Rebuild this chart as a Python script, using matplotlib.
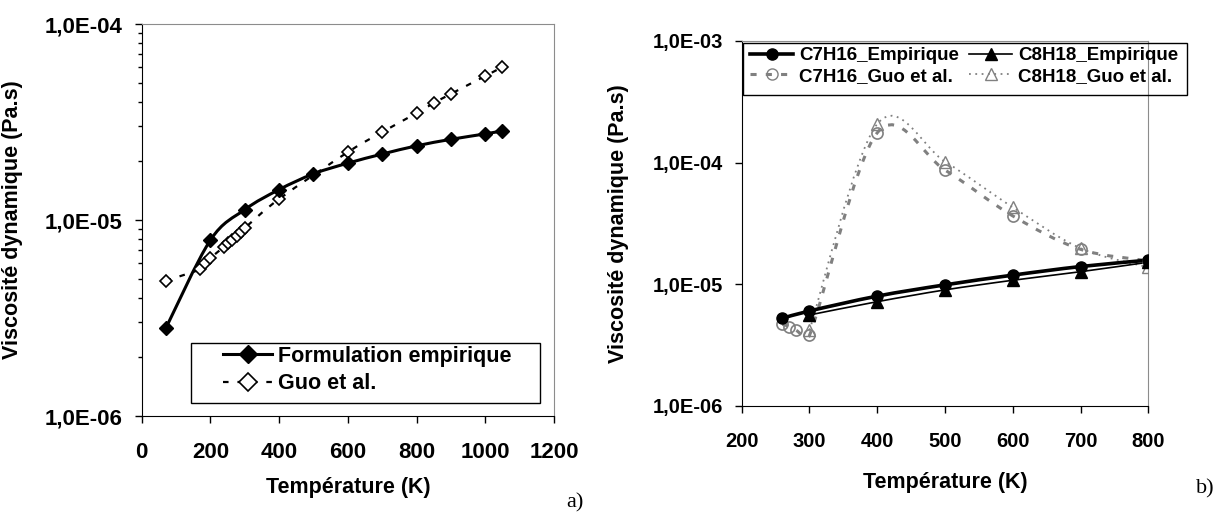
import numpy as np
import matplotlib
matplotlib.use("Agg")
import matplotlib.pyplot as plt
from matplotlib.path import Path
from matplotlib.patches import PathPatch, Rectangle
from matplotlib.lines import Line2D
from matplotlib.ticker import FixedLocator, FuncFormatter, LogLocator, NullFormatter

plt.rcParams['font.family'] = ['Liberation Sans', 'DejaVu Sans']
plt.rcParams['font.weight'] = 'bold'

GRAY = "#808080"
BORDER = "#8c8c8c"
W, H = 1219, 515

# ---- a) data ----
t_emp = [70, 200, 300, 400, 500, 600, 700, 800, 900, 1000, 1050]
mu_emp = [2.8e-6, 7.9e-6, 1.13e-5, 1.43e-5, 1.72e-5, 1.95e-5, 2.17e-5, 2.39e-5, 2.58e-5, 2.75e-5, 2.85e-5]

t_guo = [70, 170, 185, 200, 240, 252, 264, 276, 288, 300, 400, 600, 700, 800, 850, 900, 1000, 1050]
mu_guo = [4.9e-6, 5.6e-6, 6.0e-6, 6.4e-6, 7.3e-6, 7.6e-6, 7.9e-6, 8.3e-6, 8.7e-6, 9.1e-6,
          1.28e-5, 2.22e-5, 2.81e-5, 3.51e-5, 3.95e-5, 4.4e-5, 5.43e-5, 6.03e-5]

# ---- b) data ----
t_c7_emp = [260, 300, 400, 500, 600, 700, 800]
mu_c7_emp = [5.26e-6, 6.04e-6, 8.0e-6, 9.9e-6, 1.19e-5, 1.40e-5, 1.58e-5]
t_c8_emp = [300, 400, 500, 600, 700, 800]
mu_c8_emp = [5.6e-6, 7.2e-6, 9.0e-6, 1.08e-5, 1.27e-5, 1.52e-5]

t_c7_guo = [260, 270, 280, 300, 400, 500, 600, 700, 800]
mu_c7_guo = [4.7e-6, 4.5e-6, 4.2e-6, 3.8e-6, 1.76e-4, 8.7e-5, 3.65e-5, 1.94e-5, 1.56e-5]
t_c8_guo = [300, 400, 500, 600, 700, 800]
mu_c8_guo = [4.2e-6, 2.08e-4, 1.02e-4, 4.3e-5, 1.98e-5, 1.38e-5]


def smooth(ax, x, y, sx, sy, **kw):
    # Excel style smoothed line: bezier segments, control arms capped at half the segment
    P = np.column_stack([np.asarray(x, float) * sx, np.log10(y) * sy])
    n = len(P)
    verts = [P[0]]
    codes = [Path.MOVETO]
    for i in range(n - 1):
        p0 = P[i - 1] if i > 0 else P[i]
        p1, p2 = P[i], P[i + 1]
        p3 = P[i + 2] if i + 2 < n else P[i + 1]
        d12 = np.hypot(*(p2 - p1))
        d02 = np.hypot(*(p2 - p0))
        d13 = np.hypot(*(p3 - p1))
        f = 1 / 6 if d02 / 6 < d12 / 2 else d12 / 2 / d02
        g = 1 / 6 if d13 / 6 < d12 / 2 else d12 / 2 / d13
        verts += [p1 + f * (p2 - p0), p2 - g * (p3 - p1), p2]
        codes += [Path.CURVE4] * 3
    verts = np.array(verts)
    verts[:, 0] /= sx
    verts[:, 1] = 10 ** (verts[:, 1] / sy)
    ax.add_patch(PathPatch(Path(verts, codes), fill=False, capstyle='butt', **kw))


def sci(v, pos):
    return "{:.1E}".format(v).replace(".", ",")


def box(x0, y0, x1, y1):
    # legend frame in pixel coordinates of the reference
    fig.add_artist(Rectangle((x0 / W, 1 - y1 / H), (x1 - x0) / W, (y1 - y0) / H,
                             transform=fig.transFigure, fill=False, ec='black', lw=1, zorder=5))


fig = plt.figure(figsize=(12.19, 5.15), dpi=100)
ax1 = fig.add_axes([141.7 / W, 1 - 416 / H, (554 - 141.7) / W, (416 - 24) / H])
ax2 = fig.add_axes([741.7 / W, 1 - 406 / H, (1148.3 - 741.7) / W, (406 - 41) / H])

# ----- panel a -----
sx1, sy1 = 412.3 / 1200, 196
smooth(ax1, t_emp, mu_emp, sx1, sy1, color='black', lw=2.2, zorder=2)
smooth(ax1, t_guo, mu_guo, sx1, sy1, color='black', lw=1.6, linestyle=(0, (2.5, 4)), zorder=2)
ax1.plot(t_guo, mu_guo, ls='none', marker='D', ms=6.5, mfc='white', mec='black', mew=1.2, zorder=3)
ax1.plot(t_emp, mu_emp, ls='none', marker='D', ms=7, mfc='black', mec='black', zorder=4)

ax1.set_yscale('log')
ax1.set_xlim(0, 1200)
ax1.set_ylim(1e-6, 1e-4)
ax1.xaxis.set_major_locator(FixedLocator(range(0, 1201, 200)))
ax1.yaxis.set_major_formatter(FuncFormatter(sci))
ax1.yaxis.set_minor_locator(LogLocator(base=10, subs=np.arange(2, 10)))
ax1.yaxis.set_minor_formatter(NullFormatter())
ax1.tick_params(axis='y', which='major', direction='out', length=5, width=1, labelsize=16, pad=8.6)
ax1.tick_params(axis='y', which='minor', direction='out', length=3, width=1)
ax1.tick_params(axis='x', direction='out', length=5, width=1, labelsize=16, pad=14)
ax1.set_xlabel("Température (K)", fontsize=15.5, fontweight='bold', labelpad=10)
ax1.set_ylabel("Viscosité dynamique (Pa.s)", fontsize=15.5, fontweight='bold')
ax1.yaxis.set_label_coords(-0.287, 0.5)

h1 = [Line2D([], [], color='black', lw=2.2, marker='D', ms=9, mfc='black'),
      Line2D([], [], color='black', lw=1.6, linestyle=(0, (2.5, 4)), marker='D', ms=9, mfc='white', mew=1.2)]
ax1.legend(h1, ["Formulation empirique", "Guo et al."], loc='upper left',
           bbox_to_anchor=(223 / W, 1 - 346 / H), bbox_transform=fig.transFigure,
           fontsize=15.5, frameon=False, borderaxespad=0, borderpad=0,
           handlelength=2.28, handletextpad=0.28, labelspacing=0.3)
box(191, 343, 540, 403)

# ----- panel b -----
sx2, sy2 = 406.6 / 600, 121.7
smooth(ax2, t_c7_guo, mu_c7_guo, sx2, sy2, color=GRAY, lw=2.2, linestyle=(0, (2, 3)), zorder=2)
smooth(ax2, t_c8_guo, mu_c8_guo, sx2, sy2, color=GRAY, lw=1.3, linestyle=(0, (1, 2.5)), zorder=2)
smooth(ax2, t_c7_emp, mu_c7_emp, sx2, sy2, color='black', lw=2.6, zorder=3)
smooth(ax2, t_c8_emp, mu_c8_emp, sx2, sy2, color='black', lw=1.2, zorder=3)
ax2.plot(t_c7_guo, mu_c7_guo, ls='none', marker='o', ms=8, mfc='none', mec=GRAY, mew=1.2, zorder=4)
ax2.plot(t_c8_guo, mu_c8_guo, ls='none', marker='^', ms=8, mfc='none', mec=GRAY, mew=1.0, zorder=4)
ax2.plot(t_c7_emp, mu_c7_emp, ls='none', marker='o', ms=8, mfc='black', mec='black', zorder=5)
ax2.plot(t_c8_emp, mu_c8_emp, ls='none', marker='^', ms=8, mfc='black', mec='black', zorder=5)

ax2.set_yscale('log')
ax2.set_xlim(200, 800)
ax2.set_ylim(1e-6, 1e-3)
ax2.xaxis.set_major_locator(FixedLocator(range(200, 801, 100)))
ax2.yaxis.set_major_formatter(FuncFormatter(sci))
ax2.yaxis.set_minor_locator(plt.NullLocator())
ax2.tick_params(axis='y', which='major', direction='out', length=5, width=1, labelsize=14.5, pad=8.6)
ax2.tick_params(axis='x', direction='out', length=5, width=1, labelsize=14.5, pad=13.8)
ax2.set_xlabel("Température (K)", fontsize=15.5, fontweight='bold', labelpad=15)
ax2.set_ylabel("Viscosité dynamique (Pa.s)", fontsize=15.5, fontweight='bold')
ax2.yaxis.set_label_coords(-0.277, 0.5)

h2 = [Line2D([], [], color='black', lw=2.6, marker='o', ms=8, mfc='black'),
      Line2D([], [], color=GRAY, lw=2.2, linestyle=(0, (2, 3)), marker='o', ms=8, mfc='none', mec=GRAY),
      Line2D([], [], color='black', lw=1.2, marker='^', ms=8, mfc='black'),
      Line2D([], [], color=GRAY, lw=1.3, linestyle=(0, (1, 2.5)), marker='^', ms=8, mfc='none', mec=GRAY)]
leg2 = ax2.legend(h2, ["C7H16_Empirique", "C7H16_Guo et al.", "C8H18_Empirique", "C8H18_Guo et al."],
                  loc='upper left', bbox_to_anchor=(750 / W, 1 - 47 / H), bbox_transform=fig.transFigure,
                  ncol=2, fontsize=13.5, frameon=False, borderaxespad=0, borderpad=0,
                  handlelength=2.3, handletextpad=0.3, labelspacing=0.19, columnspacing=0.56)
box(743, 43, 1187, 95)

for ax in (ax1, ax2):
    for s in ('top', 'right'):
        ax.spines[s].set_color(BORDER)
    for lbl in ax.get_xticklabels() + ax.get_yticklabels():
        lbl.set_fontweight('bold')

fig.text(575 / W, 1 - 503 / H, "a)", family='Liberation Serif', fontweight='normal',
         fontsize=16, ha='center', va='center')
fig.text(1205 / W, 1 - 489 / H, "b)", family='Liberation Serif', fontweight='normal',
         fontsize=16, ha='center', va='center')

fig.savefig("out.png", dpi=100)
